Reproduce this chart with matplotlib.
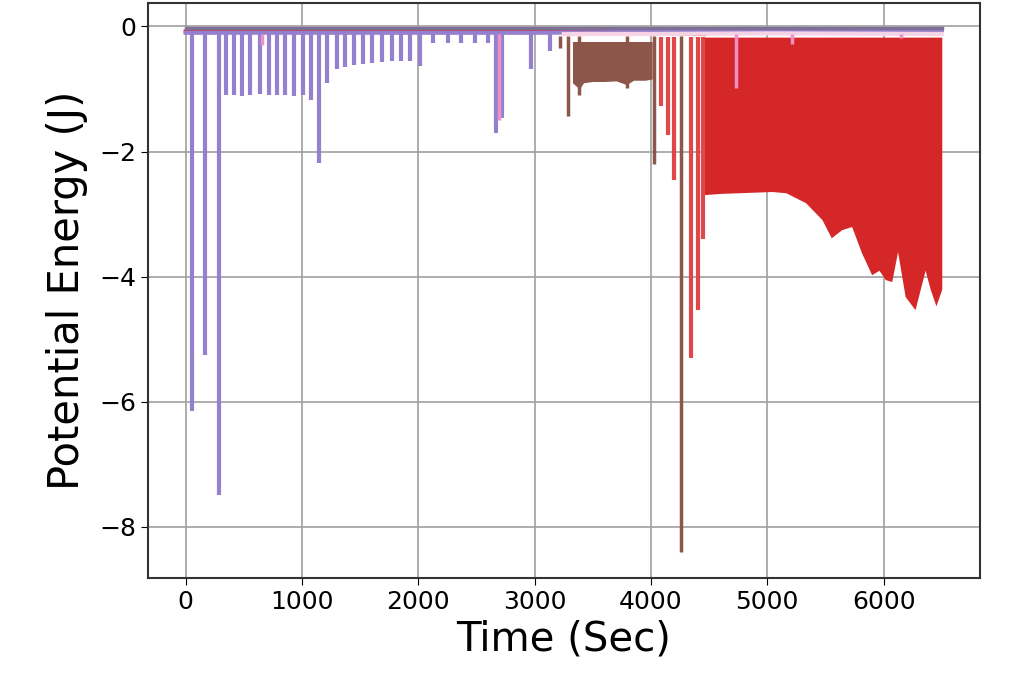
import matplotlib
matplotlib.use("Agg")
import matplotlib.pyplot as plt

# baselines (time, energy)
gray_t = [0, 6500]
gray_v = [-0.03, -0.03]
red_base_t = [0, 1500, 3000, 4457]
red_base_v = [-0.08, -0.06, -0.06, -0.12]
purple_base_t = [0, 2000, 3000, 6500]
purple_base_v = [-0.1, -0.1, -0.1, -0.06]
pink_base_t = [3250, 4000, 5000, 6500]
pink_base_v = [-0.12, -0.12, -0.11, -0.12]

# spikes
purple_spike_t = [50, 170, 285, 345, 415, 485, 555, 640, 715, 785, 855, 930,
                  1005, 1075, 1150, 1215, 1300, 1370, 1445, 1525, 1600, 1685,
                  1770, 1850, 1930, 2015, 2130, 2255, 2370, 2485, 2600, 2670,
                  2715, 2970, 3130]
purple_spike_v = [-6.15, -5.25, -7.5, -1.1, -1.1, -1.12, -1.1, -1.08, -1.1,
                  -1.1, -1.1, -1.12, -1.1, -1.18, -2.18, -0.9, -0.68, -0.65,
                  -0.62, -0.6, -0.58, -0.57, -0.56, -0.56, -0.55, -0.64, -0.26,
                  -0.27, -0.27, -0.27, -0.27, -1.7, -1.47, -0.68, -0.4]
brown_spike_t = [3215, 3283, 3385, 3790, 4028, 4256]
brown_spike_v = [-0.34, -1.44, -1.09, -0.98, -2.2, -8.4]
red_spike_t = [4085, 4143, 4200, 4342, 4400, 4443]
red_spike_v = [-1.28, -1.73, -2.45, -5.3, -4.53, -3.4]
pink_spike_t = [660, 2690, 4730, 5210, 6150]
pink_spike_v = [-0.3, -1.5, -0.98, -0.28, -0.18]

# dense oscillation bands (upper and lower envelope)
brown_band_t = [3325, 3385, 3420, 3500, 3600, 3700, 3790, 3850, 3950, 4010]
brown_band_lo = [-0.9, -1.0, -0.9, -0.88, -0.88, -0.87, -0.93, -0.86, -0.86, -0.84]
brown_band_hi = -0.24
red_band_t = [4457, 4600, 4750, 4900, 5040, 5160, 5330, 5470, 5550, 5640,
              5725, 5810, 5897, 5960, 6015, 6070, 6120, 6185, 6270, 6357,
              6400, 6450, 6500]
red_band_lo = [-2.69, -2.67, -2.66, -2.65, -2.64, -2.66, -2.82, -3.09, -3.38,
               -3.25, -3.2, -3.62, -3.97, -3.9, -4.05, -4.08, -3.6, -4.32,
               -4.53, -3.9, -4.2, -4.47, -4.2]
red_band_hi = -0.17

xticks = [0, 1000, 2000, 3000, 4000, 5000, 6000]
yticks = [-8, -6, -4, -2, 0]

fig = plt.figure(figsize=(10.13, 6.83), dpi=100)
ax = fig.add_axes([0.146, 0.154, 0.821, 0.842])

ax.plot(red_base_t, red_base_v, color="tab:red", lw=3)
ax.fill_between(red_band_t, red_band_lo, red_band_hi, color="tab:red", lw=0)
ax.vlines(red_spike_t, red_band_hi, red_spike_v, color="#e04848", lw=3)

ax.plot(purple_base_t, purple_base_v, color="#9580cf", lw=3)
ax.vlines(purple_spike_t, -0.1, purple_spike_v, color="#9580cf", lw=3)

ax.fill_between(brown_band_t, brown_band_lo, brown_band_hi, color="tab:brown", lw=0)
ax.vlines(brown_spike_t, -0.15, brown_spike_v, color="tab:brown", lw=2.5)

ax.plot(pink_base_t, pink_base_v, color="#f7d3e6", lw=3)
ax.vlines(pink_spike_t, -0.12, pink_spike_v, color="#ee8fc7", lw=2.5)

ax.plot(gray_t, gray_v, color="#7d6f96", lw=2.5)

ax.set_xlim(-325, 6825)
ax.set_ylim(-8.82, 0.38)
ax.set_xticks(xticks)
ax.set_yticks(yticks)
ax.grid(True, color="#a0a0a0", lw=1.2)
ax.set_axisbelow(True)
ax.tick_params(labelsize=18, length=5)
for s in ax.spines.values():
    s.set_color("#333333")
    s.set_linewidth(1.5)

ax.set_xlabel("Time (Sec)", fontsize=29, labelpad=4)
ax.set_ylabel("Potential Energy (J)", fontsize=30, labelpad=8)

fig.savefig("out.png", dpi=100)
